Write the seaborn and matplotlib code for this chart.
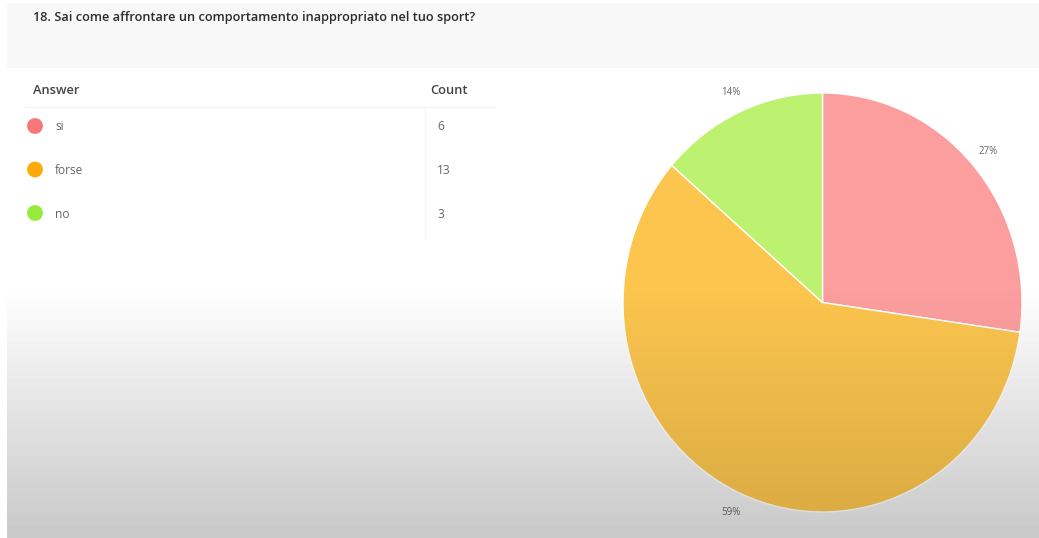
import numpy as np
import pandas as pd
import matplotlib
matplotlib.use("Agg")
import matplotlib.pyplot as plt
from matplotlib.patches import Rectangle
import seaborn as sns

# Survey question and answers
title = "18. Sai come affrontare un comportamento inappropriato nel tuo sport?"
answers = ["si", "forse", "no"]
counts = [6, 13, 3]
dot_colors = ["#f87878", "#ffa90a", "#95ec3c"]
slice_colors = ["#fc9e9e", "#fbc54e", "#bdf270"]

sns.set_theme(style="white")
plt.rcParams["font.family"] = ["Open Sans", "DejaVu Sans"]

W, H = 1039, 538
fig = plt.figure(figsize=(W / 100, H / 100), dpi=100, facecolor="white")

yy = np.arange(H)[:, None]
xx = np.arange(W)[None, :]
ramp = np.clip((yy - 285) / (H - 285), 0, 1)
ramp = np.where(xx < 7, 0.0, ramp)

# Page layer, laid out in pixel units
page = fig.add_axes([0, 0, 1, 1], zorder=0)
page.axis("off")
under = np.zeros((H, W, 4))
under[..., 3] = ramp * 0.087
page.imshow(under, extent=(0, W, H, 0), aspect="auto", interpolation="nearest")
page.add_patch(Rectangle((7, 3), W - 7, 65, facecolor="#f8f8f8", lw=0))
page.text(33, 18, title, fontsize=9.2, color="#2b2b2b", fontweight="semibold",
          va="center", ha="left")

# Answer / Count table
page.text(33, 91, "Answer", fontsize=9.3, color="#444444", fontweight="semibold",
          va="center")
page.text(430, 91, "Count", fontsize=9.3, color="#444444", fontweight="semibold",
          va="center")
page.plot([25, 495], [107, 107], color="#f5f5f5", lw=1)
page.plot([425, 425], [108, 238], color="#f5f5f5", lw=1)

table = pd.DataFrame({"answer": answers, "count": counts})
table["row_y"] = 126 + 43.5 * np.arange(len(table))
table["dot_x"] = 35
sns.scatterplot(data=table, x="dot_x", y="row_y", hue="answer",
                palette=dict(zip(answers, dot_colors)), s=130,
                edgecolor="none", legend=False, ax=page)
page.set_xlim(0, W)
page.set_ylim(H, 0)
for _, r in table.iterrows():
    page.text(55, r.row_y + 1, r.answer, fontsize=8.6, color="#666666", va="center")
    page.text(437, r.row_y + 1, str(r["count"]), fontsize=8.6, color="#666666",
              va="center")

# Pie chart of the answer counts
pie_ax = fig.add_axes([623 / W, (H - 512) / H, 399 / W, 419 / H], zorder=2)
pie_ax.pie(counts, colors=slice_colors, startangle=90, counterclock=False,
           autopct=lambda p: f"{p:.0f}%", pctdistance=1.1,
           wedgeprops=dict(edgecolor="white", linewidth=1),
           textprops=dict(fontsize=7, color="#666666"))
pie_ax.set_aspect("auto")
pie_ax.set_xlim(-1, 1)
pie_ax.set_ylim(-1, 1)
pie_ax.axis("off")

# Soft grey shading over the lower part of the page
shade_ax = fig.add_axes([0, 0, 1, 1], zorder=5)
shade_ax.axis("off")
shade = np.zeros((H, W, 4))
shade[..., 3] = ramp * 0.14
shade_ax.imshow(shade, extent=(0, W, H, 0), aspect="auto", interpolation="nearest")
shade_ax.set_xlim(0, W)
shade_ax.set_ylim(H, 0)

fig.savefig("out.png", dpi=100, facecolor="white")
